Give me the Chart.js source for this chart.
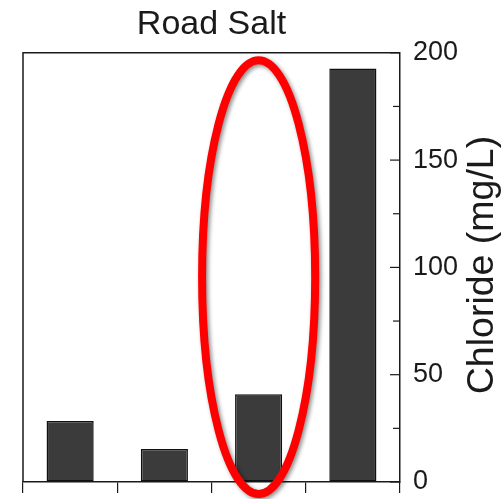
<!DOCTYPE html>
<html>
<head>
<meta charset="utf-8">
<script src="https://cdn.jsdelivr.net/npm/chart.js@4.4.1/dist/chart.umd.min.js"></script>
<style>
  html, body { margin: 0; padding: 0; background: #fff; }
  #wrap { width: 502px; height: 499px; }
</style>
</head>
<body>
<div id="wrap"><canvas id="chart" width="502" height="499"></canvas></div>
<script>
// data
const sites = ["A", "B", "C", "D"];
const chloride = [28.4, 15.4, 40.9, 192.7];
const majorTicks = [0, 50, 100, 150, 200];
const minorTicks = [25, 75, 125, 175];

const titleText = "Road Salt";
const yLabel = "Chloride (mg/L)";

// highlight ring round the third bar, in data units
const ring = { index: 2, halfWidth: 0.6, top: 196.5, bottom: -5.6 };

const FONT = "'Liberation Sans', Arial, Helvetica, sans-serif";
const INK = "#1a1a1a";

/* frame, inward ticks, axis label, red ring */
const decor = {
  id: "decor",
  beforeDatasetsDraw(chart) {
    const { ctx, chartArea: a } = chart;
    const y = chart.scales.y;
    const axisX = y.left;
    ctx.save();
    ctx.strokeStyle = INK;
    ctx.lineWidth = 1.5;
    ctx.beginPath();
    ctx.moveTo(a.left, a.bottom);
    ctx.lineTo(a.left, a.top);
    ctx.lineTo(axisX, a.top);
    ctx.stroke();

    // ticks on the right axis point into the plot
    ctx.lineWidth = 1.2;
    const tick = (v, len) => {
      const py = y.getPixelForValue(v);
      ctx.beginPath();
      ctx.moveTo(axisX, py);
      ctx.lineTo(axisX - len, py);
      ctx.stroke();
    };
    majorTicks.forEach(v => tick(v, 10));
    minorTicks.forEach(v => tick(v, 7));
    ctx.restore();
  },
  afterDatasetsDraw(chart) {
    const { ctx, chartArea: a } = chart;
    const x = chart.scales.x, y = chart.scales.y;

    // axis title, reading bottom to top
    ctx.save();
    ctx.fillStyle = INK;
    ctx.font = "37.5px " + FONT;
    ctx.textAlign = "center";
    ctx.textBaseline = "middle";
    ctx.translate(483, 265);
    ctx.rotate(-Math.PI / 2);
    ctx.fillText(yLabel, 0, 0);
    ctx.restore();

    // red ring
    const cx = x.getPixelForValue(ring.index);
    const step = x.getPixelForValue(1) - x.getPixelForValue(0);
    const top = y.getPixelForValue(ring.top);
    const bot = y.getPixelForValue(ring.bottom);
    ctx.save();
    ctx.shadowColor = "rgba(0,0,0,0.45)";
    ctx.shadowBlur = 4;
    ctx.shadowOffsetX = 2;
    ctx.shadowOffsetY = 2;
    ctx.strokeStyle = "#ff0000";
    ctx.lineWidth = 8;
    ctx.beginPath();
    ctx.ellipse(cx, (top + bot) / 2, ring.halfWidth * step, (bot - top) / 2, 0, 0, Math.PI * 2);
    ctx.stroke();
    ctx.restore();
  }
};

new Chart(document.getElementById("chart"), {
  type: "bar",
  data: {
    labels: sites,
    datasets: [{
      data: chloride,
      backgroundColor: "#3b3b3b",
      borderColor: "#111",
      borderWidth: 1.5,
      borderSkipped: false,
      barPercentage: 0.5,
      categoryPercentage: 1
    }]
  },
  options: {
    responsive: false,
    animation: false,
    devicePixelRatio: 1,
    layout: { padding: { left: 23, top: 0, right: 0, bottom: 0 } },
    plugins: {
      legend: { display: false },
      tooltip: { enabled: false },
      title: {
        display: true,
        text: titleText,
        fullSize: false,
        color: INK,
        font: { family: FONT, size: 34, weight: "normal" },
        padding: { top: 4, bottom: 8 }
      }
    },
    scales: {
      x: {
        type: "category",
        offset: true,
        ticks: { display: false },
        grid: {
          offset: true,
          drawOnChartArea: false,
          drawTicks: true,
          tickLength: 11,
          color: INK,
          lineWidth: 1.2
        },
        border: { display: true, color: INK, width: 1.5 },
        afterFit(s) { s.height = 17; }
      },
      y: {
        position: "right",
        min: 0,
        max: 200,
        afterBuildTicks(s) { s.ticks = majorTicks.map(v => ({ value: v })); },
        ticks: {
          color: INK,
          padding: 13,
          font: { family: FONT, size: 27 }
        },
        grid: { drawOnChartArea: false, drawTicks: false, tickLength: 0 },
        border: { display: true, color: INK, width: 1.5 },
        afterFit(s) {
          s.width = 102;
          s.paddingTop = 0;
          s.paddingBottom = 0;
        }
      }
    }
  },
  plugins: [decor]
});
</script>
</body>
</html>
